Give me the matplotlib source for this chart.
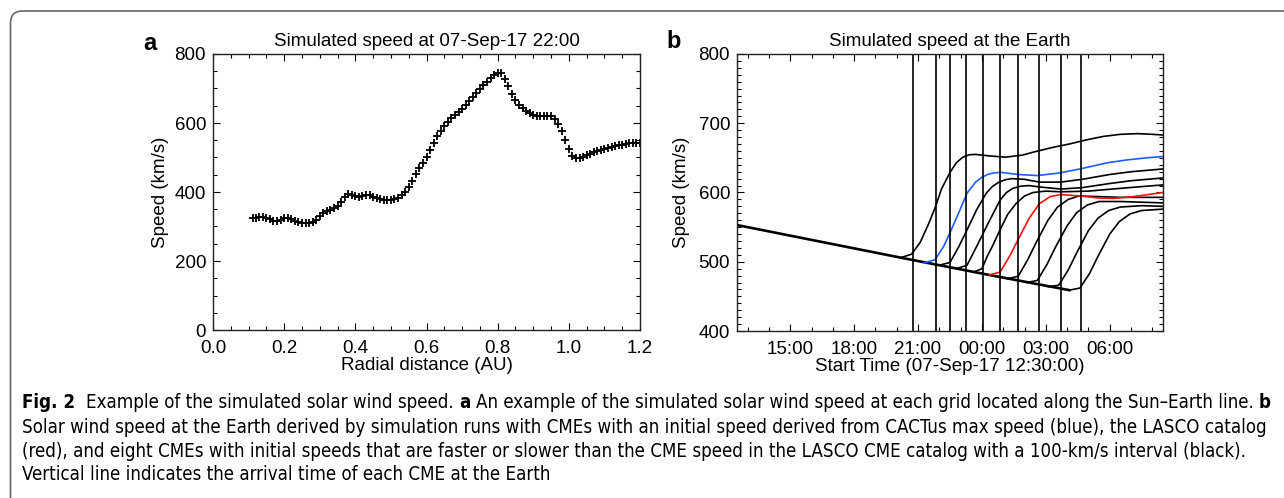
import numpy as np
import matplotlib.pyplot as plt
from matplotlib.patches import FancyBboxPatch
from matplotlib.ticker import MultipleLocator, FixedLocator
from matplotlib.transforms import IdentityTransform
from matplotlib import font_manager

plt.rcParams['font.family'] = ['Liberation Sans', 'DejaVu Sans']

# ---- panel a: speed along the Sun-Earth line ----
r_au = [0.112, 0.12, 0.13, 0.14, 0.15, 0.16, 0.17, 0.18, 0.19, 0.20,
        0.21, 0.22, 0.23, 0.24, 0.25, 0.26, 0.27, 0.28, 0.29, 0.30,
        0.31, 0.32, 0.33, 0.34, 0.35, 0.36, 0.37, 0.38, 0.39, 0.40,
        0.41, 0.42, 0.43, 0.44, 0.45, 0.46, 0.47, 0.48, 0.49, 0.50,
        0.51, 0.52, 0.53, 0.54, 0.55, 0.56, 0.57, 0.58, 0.59, 0.60,
        0.61, 0.62, 0.63, 0.64, 0.65, 0.66, 0.67, 0.68, 0.69, 0.70,
        0.71, 0.72, 0.73, 0.74, 0.75, 0.76, 0.77, 0.78, 0.79, 0.80,
        0.81, 0.82, 0.83, 0.84, 0.85, 0.86, 0.87, 0.88, 0.89, 0.90,
        0.91, 0.92, 0.93, 0.94, 0.95, 0.96, 0.97, 0.98, 0.99, 1.00,
        1.01, 1.02, 1.03, 1.04, 1.05, 1.06, 1.07, 1.08, 1.09, 1.10,
        1.11, 1.12, 1.13, 1.14, 1.15, 1.16, 1.17, 1.18, 1.19, 1.20]
speed_r = [324, 326, 327, 327, 326, 323, 317, 315, 319, 325,
           326, 322, 317, 313, 310, 309, 310, 314, 320, 329,
           338, 344, 349, 354, 360, 372, 386, 394, 391, 387,
           386, 388, 391, 390, 386, 382, 379, 377, 377, 377,
           380, 384, 391, 401, 415, 433, 452, 469, 484, 502,
           523, 543, 561, 578, 590, 603, 614, 624, 633, 642,
           652, 663, 674, 688, 699, 709, 719, 731, 740, 746,
           746, 728, 706, 684, 668, 653, 643, 634, 628, 624,
           621, 620, 620, 620, 619, 612, 598, 578, 550, 524,
           505, 499, 498, 502, 507, 511, 515, 518, 521, 524,
           527, 530, 532, 535, 537, 539, 541, 542, 543, 543]

# ---- panel b: speed at the Earth, hours after 07-Sep-17 12:30 ----
base_h = [0, 4, 8, 12, 15.6]
base_v = [553, 528.5, 504, 480, 459]

c1_h = [7.7, 8.2, 8.6, 9.0, 9.3, 9.6, 10.0, 10.3, 10.6, 10.9, 11.2, 11.8, 12.6,
        13.4, 14.0, 14.8, 15.6, 16.4, 17.2, 18.0, 18.8, 19.5, 20.0]
c1_v = [506, 511, 528, 555, 578, 605, 629, 643, 651, 654.5, 655, 653, 651,
        654, 659, 665, 670, 676, 681, 684, 685, 684, 683]
blue_h = [8.8, 9.3, 9.7, 10.0, 10.4, 10.8, 11.2, 11.5, 11.8, 12.1, 12.4, 13.2,
          14.1, 15.1, 16.1, 17.4, 18.3, 19.2, 20.0]
blue_v = [498.5, 503, 522, 542, 570, 599, 615, 622, 626.5, 628.5, 629, 626,
          624.5, 628, 634, 643, 647, 650, 652]
c3_h = [9.5, 10.0, 10.4, 10.8, 11.25, 11.7, 12.0, 12.3, 12.6, 12.9, 13.5, 14.2,
        15.2, 16.2, 17.5, 18.5, 20.0]
c3_v = [495, 499, 521, 546, 575, 599, 609, 615, 618.5, 620, 619, 615,
        615, 619, 626, 630, 634]
c4_h = [10.3, 10.8, 11.25, 11.7, 12.35, 12.65, 12.95, 13.3, 13.7, 14.2, 15.2,
        16.2, 17.5, 18.5, 20.0]
c4_v = [490, 495, 522, 550, 589, 600, 606, 609, 610, 608, 605,
        607, 613, 617, 621]
c5_h = [11.1, 11.5, 11.75, 12.0, 12.35, 12.7, 13.1, 13.5, 13.9, 14.5,
        15.2, 16.5, 18.0, 20.0]
c5_v = [485, 490, 508, 523, 546, 568, 584, 595, 600, 602,
        601, 602, 606, 611]
red_h = [11.85, 12.35, 12.8, 13.2, 13.7, 14.2, 14.7, 15.2, 16.1, 17.0,
         17.7, 18.6, 19.3, 20.0]
red_v = [481, 485, 508, 532, 562, 584, 594, 597, 595, 592,
         591.5, 594, 597, 600]
c7_h = [12.7, 13.2, 13.65, 14.05, 14.6, 15.05, 15.55, 16.05, 17.0, 18.0,
        19.0, 20.0]
c7_v = [475.5, 479, 503, 528, 560, 579, 590, 595, 594, 593, 593, 593]
c8_h = [13.6, 14.1, 14.55, 14.95, 15.5, 15.95, 16.45, 17.0, 18.0, 19.0, 20.0]
c8_v = [470, 473, 496, 521, 552, 571, 582, 587, 587, 586, 585]
c9_h = [14.6, 15.1, 15.55, 15.95, 16.5, 16.95, 17.45, 18.0, 19.0, 20.0]
c9_v = [464, 466, 488, 513, 545, 563, 574, 579, 581, 580]
c10_h = [15.6, 16.1, 16.55, 16.95, 17.5, 17.95, 18.45, 19.0, 20.0]
c10_v = [459, 462, 483, 508, 540, 558, 569, 574, 576]

arrival_h = [8.25, 9.32, 9.99, 10.74, 11.53, 12.36, 13.21, 14.16, 15.20, 16.14]
time_ticks = [2.5, 5.5, 8.5, 11.5, 14.5, 17.5]
time_labels = ['15:00', '18:00', '21:00', '00:00', '03:00', '06:00']

W, H = 1284, 498
fig = plt.figure(figsize=(W / 100, H / 100), dpi=100)

box = FancyBboxPatch((10.5, -60), 1400, 487 + 60, boxstyle='round,pad=0,rounding_size=12',
                     transform=IdentityTransform(), fill=False, edgecolor='#666666', lw=1.2)
fig.add_artist(box)

fs = 13.5


def style_axes(ax):
    ax.tick_params(which='both', direction='in', top=True, right=True, width=0.8,
                   labelsize=fs, pad=5)
    ax.tick_params(axis='x', which='both', pad=7)
    ax.tick_params(which='major', length=5)
    ax.tick_params(which='minor', length=3)
    for s in ax.spines.values():
        s.set_linewidth(1.0)
        s.set_color('#222222')


ax1 = fig.add_axes([213 / W, 1 - 330 / H, 427 / W, 276 / H])
ax1.plot(r_au, speed_r, '+', color='black', ms=6, mew=1.3)
ax1.set_xlim(0, 1.2)
ax1.set_ylim(0, 800)
ax1.xaxis.set_major_locator(MultipleLocator(0.2))
ax1.xaxis.set_minor_locator(MultipleLocator(0.05))
ax1.yaxis.set_major_locator(MultipleLocator(200))
ax1.yaxis.set_minor_locator(MultipleLocator(50))
ax1.xaxis.set_major_formatter(lambda v, p: f'{v:.1f}')
ax1.set_xlabel('Radial distance (AU)', fontsize=fs, labelpad=0.5)
ax1.set_ylabel('Speed (km/s)', fontsize=fs, labelpad=4)
ax1.set_title('Simulated speed at 07-Sep-17 22:00', fontsize=fs, pad=6)
style_axes(ax1)

ax2 = fig.add_axes([737 / W, 1 - 331 / H, 426 / W, 277 / H])
ax2.plot(base_h, base_v, color='black', lw=1.9)
black_runs = [(c1_h, c1_v), (c3_h, c3_v), (c4_h, c4_v), (c5_h, c5_v),
              (c7_h, c7_v), (c8_h, c8_v), (c9_h, c9_v), (c10_h, c10_v)]
for hh, vv in black_runs:
    ax2.plot(hh, vv, color='black', lw=1.2)
ax2.plot(blue_h, blue_v, color='#1f5fff', lw=1.2)
ax2.plot(red_h, red_v, color='#ff1010', lw=1.2)
ax2.vlines(arrival_h, 400, 800, color='black', lw=1.2)
ax2.set_xlim(0, 20)
ax2.set_ylim(400, 800)
ax2.xaxis.set_major_locator(FixedLocator(time_ticks))
ax2.set_xticklabels(time_labels)
ax2.xaxis.set_minor_locator(MultipleLocator(1, offset=0.5))
ax2.yaxis.set_major_locator(MultipleLocator(100))
ax2.yaxis.set_minor_locator(MultipleLocator(10))
ax2.set_xlabel('Start Time (07-Sep-17 12:30:00)', fontsize=fs, labelpad=0.5)
ax2.set_ylabel('Speed (km/s)', fontsize=fs, labelpad=6)
ax2.set_title('Simulated speed at the Earth', fontsize=fs, pad=6)
style_axes(ax2)

fig.text(143 / W, 1 - 50 / H, 'a', fontsize=17, fontweight='bold', va='baseline')
fig.text(666 / W, 1 - 48 / H, 'b', fontsize=17, fontweight='bold', va='baseline')

# ---- caption ----
names = {f.name for f in font_manager.fontManager.ttflist}
cond = [f for f in font_manager.fontManager.ttflist
        if f.name == 'DejaVu Sans' and f.stretch == 'condensed']
cap_kw = {'family': ['Liberation Sans', 'DejaVu Sans']}
if 'Liberation Sans Narrow' in names:
    cap_kw = {'family': ['Liberation Sans Narrow', 'DejaVu Sans']}
elif cond:
    cap_kw = {'family': ['DejaVu Sans'], 'fontstretch': 'condensed'}
renderer = fig.canvas.get_renderer()

line1 = [('Fig. 2', True), ('Example of the simulated solar wind speed.', False), ('a', True),
         ('An example of the simulated solar wind speed at each grid located along the Sun–Earth line.', False),
         ('b', True)]
line1_gaps = [2, 1, 1, 1]
line2 = 'Solar wind speed at the Earth derived by simulation runs with CMEs with an initial speed derived from CACTus max speed (blue), the LASCO catalog'
line3 = '(red), and eight CMEs with initial speeds that are faster or slower than the CME speed in the LASCO CME catalog with a 100-km/s interval (black).'
line4 = 'Vertical line indicates the arrival time of each CME at the Earth'

probe = fig.text(0, 0, line2, fontsize=14, **cap_kw)
cap_fs = 14 * (1278 - 22) / probe.get_window_extent(renderer).width
probe.remove()
sp = fig.text(0, 0, 'a a', fontsize=cap_fs, **cap_kw)
sp2 = fig.text(0, 0, 'aa', fontsize=cap_fs, **cap_kw)
space_w = sp.get_window_extent(renderer).width - sp2.get_window_extent(renderer).width
sp.remove()
sp2.remove()

x = 22
y1 = 402
for i, (txt, bold) in enumerate(line1):
    t = fig.text(x / W, 1 - y1 / H, txt, fontsize=cap_fs,
                 fontweight='bold' if bold else 'normal', va='center', **cap_kw)
    x += t.get_window_extent(renderer).width
    if i < len(line1_gaps):
        x += space_w * line1_gaps[i]
for yy, txt in [(427.5, line2), (451, line3), (474, line4)]:
    fig.text(22 / W, 1 - yy / H, txt, fontsize=cap_fs, va='center', **cap_kw)

fig.savefig('out.png', dpi=100)
